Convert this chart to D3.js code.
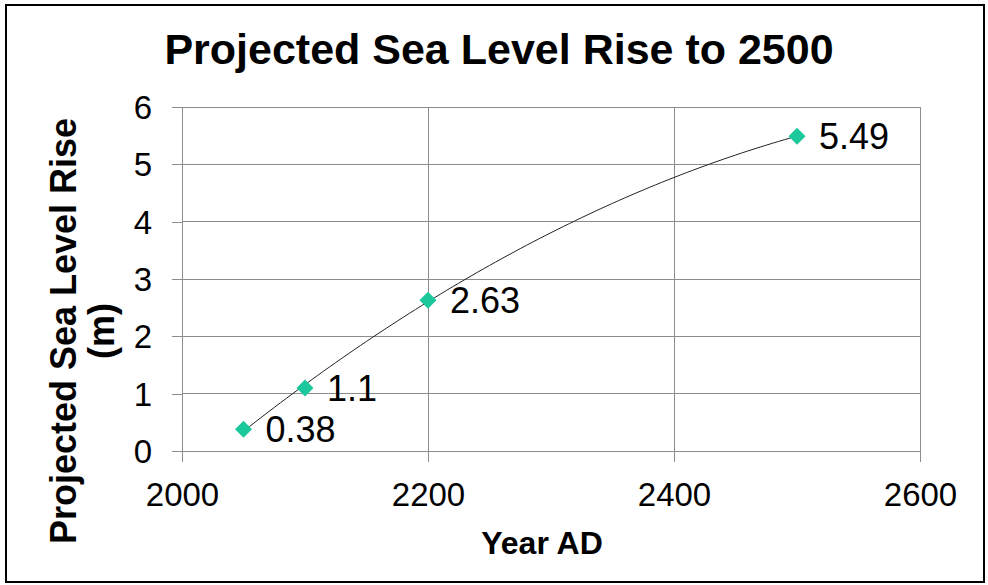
<!DOCTYPE html>
<html>
<head>
<meta charset="utf-8">
<script src="https://cdn.jsdelivr.net/npm/d3@7"></script>
<style>
  html, body { margin: 0; padding: 0; background: #fff; }
  svg { display: block; font-family: "Liberation Sans", Arial, sans-serif; }
</style>
</head>
<body>
<svg id="chart" width="988" height="585"></svg>
<script>
// Projected sea level rise (m) by year
const years = [2050, 2100, 2200, 2500];
const rise = [0.38, 1.1, 2.63, 5.49];
const xTickValues = [2000, 2200, 2400, 2600];
const yTickValues = [0, 1, 2, 3, 4, 5, 6];
const titleText = "Projected Sea Level Rise to 2500";
const xTitle = "Year AD";
const yTitleLines = ["Projected Sea Level Rise", "(m)"];

const svg = d3.select("#chart");
const plot = { left: 182, right: 920, top: 107, bottom: 451 };

const x = d3.scaleLinear().domain([2000, 2600]).range([plot.left, plot.right]);
const y = d3.scaleLinear().domain([0, 6]).range([plot.bottom, plot.top]);

// outer chart frame
svg.append("rect")
  .attr("x", 6).attr("y", 5).attr("width", 978).attr("height", 577)
  .attr("fill", "#fff").attr("stroke", "#000").attr("stroke-width", 2);

// title
svg.append("text")
  .attr("x", 499).attr("y", 64)
  .attr("text-anchor", "middle")
  .attr("font-weight", "bold").attr("font-size", 43)
  .text(titleText);

const gridColor = "#8c8c8c";

// gridlines
svg.append("g").selectAll("line").data(yTickValues.filter(v => v > 0)).join("line")
  .attr("x1", plot.left).attr("x2", plot.right)
  .attr("y1", d => y(d)).attr("y2", d => y(d))
  .attr("stroke", gridColor).attr("stroke-width", 1).attr("shape-rendering", "crispEdges");
svg.append("g").selectAll("line").data(xTickValues.filter(v => v > 2000)).join("line")
  .attr("x1", d => x(d)).attr("x2", d => x(d))
  .attr("y1", plot.top).attr("y2", plot.bottom)
  .attr("stroke", gridColor).attr("stroke-width", 1).attr("shape-rendering", "crispEdges");

// axes
const xAxis = svg.append("g")
  .attr("transform", `translate(0,${plot.bottom})`)
  .call(d3.axisBottom(x).tickValues(xTickValues).tickSize(11).tickSizeOuter(0).tickPadding(21).tickFormat(d3.format("d")));
const yAxis = svg.append("g")
  .attr("transform", `translate(${plot.left},0)`)
  .call(d3.axisLeft(y).tickValues(yTickValues).tickSize(10).tickSizeOuter(0).tickPadding(20).tickFormat(d3.format("d")));

[xAxis, yAxis].forEach(g => {
  g.select(".domain").attr("stroke", gridColor).attr("shape-rendering", "crispEdges");
  g.selectAll(".tick line").attr("stroke", gridColor).attr("shape-rendering", "crispEdges");
  g.selectAll(".tick text").attr("fill", "#000").attr("font-family", "Liberation Sans, Arial, sans-serif");
});
xAxis.selectAll(".tick text").attr("font-size", 33).attr("dy", "0.71em");
yAxis.selectAll(".tick text").attr("font-size", 33).attr("dy", "0.35em");

// axis titles
svg.append("text")
  .attr("x", 542).attr("y", 554)
  .attr("text-anchor", "middle")
  .attr("font-weight", "bold").attr("font-size", 32)
  .text(xTitle);

const yTitle = svg.append("text")
  .attr("transform", "translate(76,331) rotate(-90)")
  .attr("text-anchor", "middle")
  .attr("font-weight", "bold").attr("font-size", 36);
yTitle.selectAll("tspan").data(yTitleLines).join("tspan")
  .attr("x", 0).attr("y", (d, i) => i * 38)
  .text(d => d);

// second-order polynomial trendline (least squares) through the series
function quadFit(xs, ys) {
  const s = [0, 0, 0, 0, 0], t = [0, 0, 0];
  xs.forEach((xv, i) => {
    let p = 1;
    for (let k = 0; k <= 4; k++) { s[k] += p; if (k <= 2) t[k] += p * ys[i]; p *= xv; }
  });
  const A = [[s[0], s[1], s[2], t[0]], [s[1], s[2], s[3], t[1]], [s[2], s[3], s[4], t[2]]];
  for (let c = 0; c < 3; c++) {
    for (let r = c + 1; r < 3; r++) {
      const f = A[r][c] / A[c][c];
      for (let k = c; k < 4; k++) A[r][k] -= f * A[c][k];
    }
  }
  const coef = [0, 0, 0];
  for (let r = 2; r >= 0; r--) {
    let v = A[r][3];
    for (let k = r + 1; k < 3; k++) v -= A[r][k] * coef[k];
    coef[r] = v / A[r][r];
  }
  return coef;
}
const sc = years.map(yr => (yr - 2000) / 100);
const [c0, c1, c2] = quadFit(sc, rise);
const fitX = d3.range(years[0], years[years.length - 1] + 1, 5);
const trend = fitX.map(yr => {
  const u = (yr - 2000) / 100;
  return [yr, c0 + c1 * u + c2 * u * u];
});
svg.append("path")
  .datum(trend)
  .attr("d", d3.line().x(d => x(d[0])).y(d => y(d[1])))
  .attr("fill", "none").attr("stroke", "#222").attr("stroke-width", 1);

// diamond markers
const pts = years.map((yr, i) => [yr, rise[i]]);
const r = 8.5;
svg.append("g").selectAll("path").data(pts).join("path")
  .attr("d", d => {
    const cx = x(d[0]), cy = y(d[1]);
    return `M${cx},${cy - r}L${cx + r},${cy}L${cx},${cy + r}L${cx - r},${cy}Z`;
  })
  .attr("fill", "#1bc89b");

// data labels
svg.append("g").selectAll("text").data(pts).join("text")
  .attr("x", d => x(d[0]) + 22)
  .attr("y", d => y(d[1]) + 13)
  .attr("font-size", 36)
  .attr("fill", "#000")
  .text(d => String(d[1]));
</script>
</body>
</html>
